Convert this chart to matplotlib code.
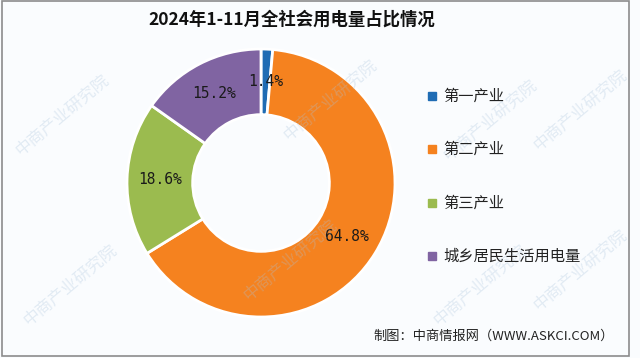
import matplotlib
matplotlib.use("Agg")
import matplotlib.pyplot as plt
from matplotlib.patches import Rectangle

plt.rcParams['font.family'] = ['Noto Sans CJK SC', 'DejaVu Sans']

title = "2024年1-11月全社会用电量占比情况"
categories = ["第一产业", "第二产业", "第三产业", "城乡居民生活用电量"]
values = [1.4, 64.8, 18.6, 15.2]
colors = ["#1f6cb4", "#f5821f", "#9bbb4f", "#8064a2"]
source = "制图：中商情报网（WWW.ASKCI.COM）"
watermark = "中商产业研究院"

W, H = 640, 358
fig = plt.figure(figsize=(W / 100, H / 100), dpi=100)
fig.patch.set_facecolor("#fafcfe")

# frame
fig.add_artist(Rectangle((1.5 / W, 1 - 356 / H), 627 / W, 355 / H,
                         transform=fig.transFigure, fill=False,
                         edgecolor="#8c8c8c", lw=1.2))

# watermarks (kept inside the picture)
wm_pos = [(62, 115), (330, 100), (490, 120), (580, 110),
          (70, 285), (290, 260), (480, 285), (580, 270)]
for x, y in wm_pos:
    fig.text(x / W, 1 - y / H, watermark, fontsize=12, color="#a9c3dc",
             alpha=0.3, rotation=40, ha="center", va="center", zorder=0)

cx, cy, r = 261, 183, 134
ax = fig.add_axes([(cx - r) / W, 1 - (cy + r) / H, 2 * r / W, 2 * r / H])
ax.set_facecolor("none")
wedges, texts, autotexts = ax.pie(
    values, colors=colors, startangle=90, counterclock=False,
    radius=1.0, wedgeprops=dict(width=0.49, edgecolor="white", linewidth=2),
    autopct=lambda p: f"{p:.1f}%", pctdistance=0.755,
    textprops=dict(fontsize=10.5, color="#1a1a1a", family=["DejaVu Sans Mono"]))
ax.set_xlim(-1, 1)
ax.set_ylim(-1, 1)
ax.set_aspect("equal")
ax.axis("off")

fig.text(292 / W, 1 - 20 / H, title, fontsize=12.5, fontweight="bold",
         ha="center", va="center", color="#111111")

leg_y = [96, 149, 203, 256]
for lab, col, y in zip(categories, colors, leg_y):
    fig.add_artist(Rectangle((428 / W, 1 - (y + 4) / H), 8 / W, 8 / H,
                             transform=fig.transFigure, color=col))
    fig.text(443 / W, 1 - y / H, lab, fontsize=11, ha="left", va="center",
             color="#222222")

fig.text(373 / W, 1 - 336 / H, source, fontsize=9.5, ha="left", va="center",
         color="#222222")

fig.savefig("out.png", dpi=100, facecolor=fig.get_facecolor())
